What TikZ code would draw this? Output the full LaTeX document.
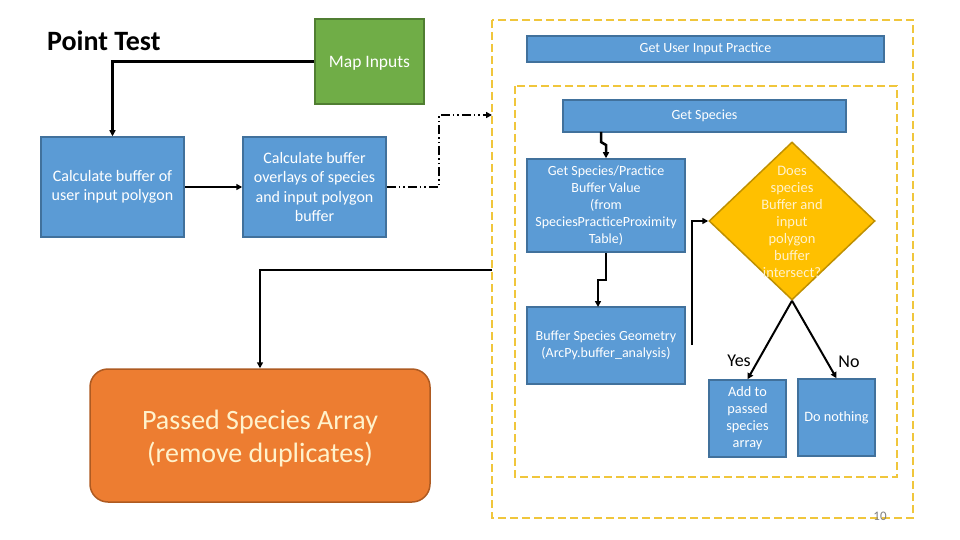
\documentclass[tikz,border=0pt]{standalone}
\usepackage{fontspec}
\setmainfont{Carlito}
\usetikzlibrary{shapes.geometric,arrows.meta}
\definecolor{bluefill}{HTML}{5B9BD5}
\definecolor{blueline}{HTML}{41719C}
\definecolor{greenfill}{HTML}{70AD47}
\definecolor{greenline}{HTML}{507E32}
\definecolor{orangefill}{HTML}{ED7D31}
\definecolor{orangeline}{HTML}{AE5A21}
\definecolor{goldfill}{HTML}{FFC000}
\definecolor{goldline}{HTML}{BF9000}
\definecolor{dashyellow}{HTML}{F0C63C}
\definecolor{paletext}{HTML}{FFF2CC}
\begin{document}
\begin{tikzpicture}[x=1pt,y=-1pt,
  bluebox/.style={draw=blueline, fill=bluefill, line width=1.5pt, text=white, align=center, inner sep=2pt},
  boxtext/.style={font=\fontsize{16}{19.5}\selectfont},
  smalltext/.style={font=\fontsize{14}{17}\selectfont},
  conn/.style={draw=black, line width=2pt, -{Triangle[length=6pt,width=6pt]}},
  dashframe/.style={draw=dashyellow, line width=2pt, dash pattern=on 8pt off 4pt}
]
\useasboundingbox[fill=white] (0,0) rectangle (960,540);

% yellow dashed frames
\draw[dashframe] (492,20) rectangle (913,518);
\draw[dashframe] (515,86) rectangle (897,477);

% title
\node[font=\bfseries\fontsize{28}{32}\selectfont, anchor=west, inner sep=0pt] (title) at (47,41) {Point Test};

% map inputs
\node[draw=greenline, fill=greenfill, line width=1.5pt, minimum width=109pt, minimum height=85pt,
  label={[text=white, font=\fontsize{17.5}{20}\selectfont, yshift=-2pt]center:Map Inputs}] (map) at (369.5,61.5) {};

% left column boxes
\node[bluebox, boxtext, minimum width=143pt, minimum height=100pt] (calcA) at (112.5,187) {Calculate buffer of\\user input polygon};
\node[bluebox, boxtext, minimum width=143pt, minimum height=100pt] (calcB) at (314.5,187) {Calculate buffer\\overlays of species\\and input polygon\\buffer};

% right side boxes
\node[bluebox, font=\fontsize{14}{16}\selectfont, minimum width=357pt, minimum height=26pt] (gui) at (705.5,49) {Get User Input Practice};
\node[bluebox, font=\fontsize{14}{16}\selectfont, minimum width=283pt, minimum height=32pt] (gsp) at (704.5,116) {Get Species};
\node[bluebox, smalltext, minimum width=158pt, minimum height=93pt] (gspv) at (606,205.5) {Get Species/Practice\\Buffer Value\\(from\\SpeciesPracticeProximity\\Table)};
\node[bluebox, smalltext, minimum width=158pt, minimum height=77pt] (bsg) at (606,345.5) {Buffer Species Geometry\\(ArcPy.buffer\_analysis)};

% diamond
\node[shape=diamond, draw=goldline, fill=goldfill, line width=1.5pt, minimum width=166pt, minimum height=158pt, inner sep=0pt,
  label={[text=paletext, align=center, font=\fontsize{14.5}{17}\selectfont, yshift=-1pt]center:{Does\\species\\Buffer and\\input\\polygon\\buffer\\intersect?}}] (dec) at (792,221) {};

\node[bluebox, font=\fontsize{14.3}{17}\selectfont, minimum width=77pt, minimum height=77pt] (add) at (747.5,418.5) {Add to\\passed\\species\\array};
\node[bluebox, font=\fontsize{14.3}{17}\selectfont, minimum width=77pt, minimum height=77pt] (none) at (836.5,417.5) {Do nothing};

\node[font=\fontsize{18}{20}\selectfont] (yes) at (739,361) {Yes};
\node[font=\fontsize{18}{20}\selectfont] (no) at (849,362) {No};

% orange box
\node[draw=orangeline, fill=orangefill, line width=1.5pt, rounded corners=18pt, minimum width=340pt, minimum height=133pt,
  label={[text=paletext, align=center, font=\fontsize{28}{33}\selectfont, yshift=-3pt]center:{Passed Species Array\\(remove duplicates)}}] (passed) at (260,435.5) {};

% page number
\node[text=gray, font=\fontsize{13}{15}\selectfont] (pnum) at (880,516) {10};

% connectors
\coordinate (outerL) at (492,115);
\coordinate (outerL2) at (492,270);
\coordinate (bsgR) at (692,345);
\draw[conn, line width=2.5pt] (map.west) -| (calcA.north);
\draw[conn] (calcA.east) -- (calcB.west);
\draw[line width=2pt, dash pattern=on 9pt off 3pt on 1.5pt off 3pt on 1.5pt off 3pt, -{Triangle[length=6pt,width=6pt]}] (calcB.east) -- (439,187) -- (439,115) -- (outerL);
\draw[conn] (outerL2) -| (passed.north);
\draw[conn, line width=2.5pt] (601,132) -- (601,142) -- (606,145) -- (gspv.north);
\draw[conn] (gspv.south) -- (606,280) -- (598,280) -- (598,307);
\draw[conn] (bsgR) |- (dec.west);
\draw[conn] (dec.south) -- (add.north);
\draw[conn] (dec.south) -- (none.north);
\end{tikzpicture}
\end{document}
